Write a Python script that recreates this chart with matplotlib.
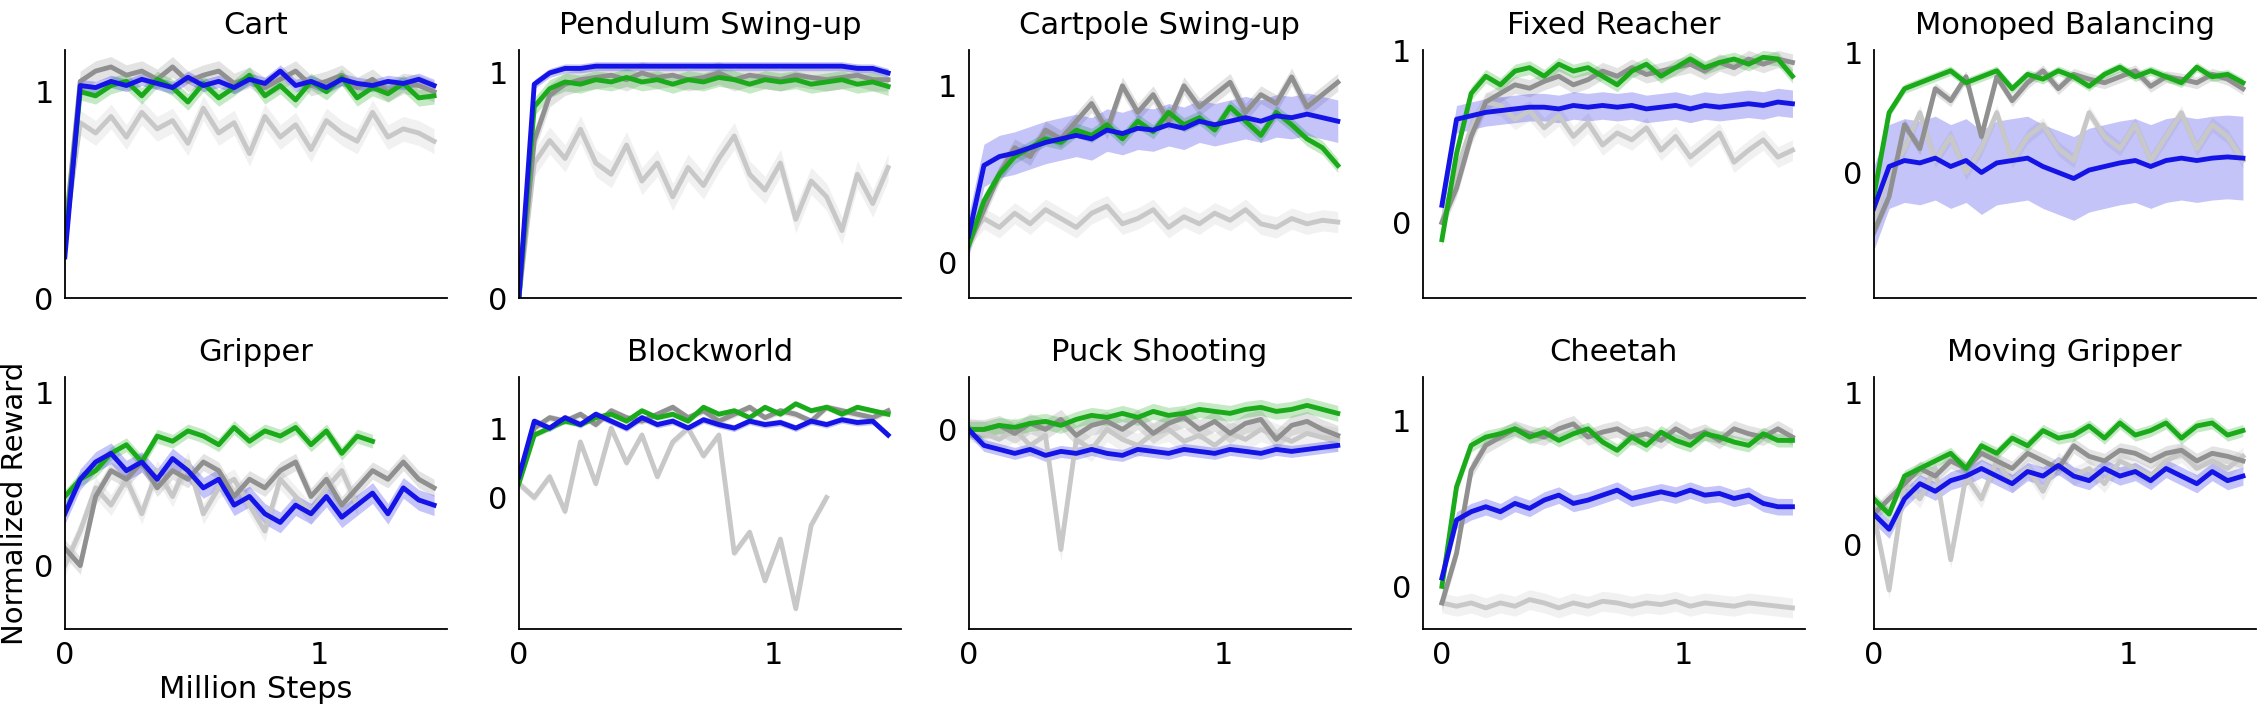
import numpy as np
import matplotlib
matplotlib.use("Agg")
import matplotlib.pyplot as plt

nan = np.nan
titles = ["Cart", "Pendulum Swing-up", "Cartpole Swing-up", "Fixed Reacher", "Monoped Balancing",
          "Gripper", "Blockworld", "Puck Shooting", "Cheetah", "Moving Gripper"]

blue = [
 [0.2,1.03,1.02,1.05,1.03,1.06,1.04,1.02,1.07,1.03,1.05,1.02,1.06,1.04,1.1,1.03,1.05,1.02,1.06,1.04,1.03,1.05,1.04,1.06,1.03],
 [0,0.95,1.0,1.02,1.02,1.03,1.03,1.03,1.03,1.03,1.03,1.03,1.03,1.03,1.03,1.03,1.03,1.03,1.03,1.03,1.03,1.03,1.02,1.02,1.0],
 [0.15,0.55,0.6,0.62,0.65,0.68,0.7,0.72,0.7,0.75,0.73,0.76,0.75,0.78,0.76,0.8,0.78,0.8,0.82,0.8,0.83,0.82,0.84,0.82,0.8],
 [0.1,0.6,0.62,0.64,0.65,0.66,0.67,0.67,0.66,0.68,0.67,0.68,0.67,0.68,0.66,0.67,0.68,0.66,0.68,0.67,0.68,0.69,0.68,0.7,0.69],
 [-0.3,0.05,0.1,0.08,0.12,0.05,0.1,0.0,0.08,0.1,0.12,0.05,0.0,-0.05,0.02,0.05,0.08,0.1,0.05,0.1,0.12,0.1,0.12,0.13,0.12],
 [0.3,0.5,0.6,0.65,0.55,0.6,0.5,0.62,0.55,0.45,0.5,0.35,0.4,0.3,0.25,0.35,0.3,0.4,0.28,0.35,0.42,0.3,0.45,0.38,0.35],
 [0.3,1.1,1.0,1.15,1.05,1.2,1.1,1.0,1.15,1.05,1.1,1.0,1.12,1.05,1.0,1.1,1.05,1.08,1.0,1.1,1.05,1.12,1.08,1.1,0.9],
 [0,-0.08,-0.1,-0.12,-0.1,-0.13,-0.11,-0.12,-0.1,-0.12,-0.13,-0.1,-0.11,-0.12,-0.1,-0.11,-0.12,-0.1,-0.11,-0.12,-0.1,-0.11,-0.1,-0.09,-0.08],
 [0.05,0.4,0.45,0.48,0.45,0.5,0.47,0.52,0.55,0.5,0.52,0.55,0.58,0.53,0.55,0.57,0.55,0.58,0.55,0.56,0.53,0.55,0.5,0.48,0.48],
 [0.2,0.1,0.3,0.4,0.35,0.42,0.45,0.5,0.45,0.4,0.48,0.45,0.52,0.45,0.42,0.5,0.45,0.48,0.42,0.5,0.45,0.4,0.48,0.42,0.45],
]
green = [
 [0.25,1.0,0.98,1.03,1.05,0.98,1.06,1.02,0.95,1.04,0.97,1.02,1.08,0.98,1.03,0.96,1.05,1.0,1.07,0.97,1.02,0.99,1.04,0.97,0.98],
 [0,0.85,0.93,0.96,0.95,0.97,0.96,0.98,0.96,0.97,0.95,0.97,0.96,0.98,0.97,0.95,0.97,0.96,0.97,0.95,0.96,0.97,0.95,0.96,0.94],
 [0.1,0.35,0.5,0.6,0.65,0.7,0.68,0.75,0.72,0.78,0.7,0.8,0.74,0.85,0.78,0.82,0.75,0.88,0.8,0.72,0.85,0.78,0.7,0.65,0.55],
 [-0.1,0.4,0.75,0.85,0.8,0.88,0.9,0.85,0.92,0.88,0.9,0.85,0.8,0.88,0.92,0.85,0.9,0.95,0.9,0.93,0.95,0.92,0.96,0.95,0.85],
 [-0.2,0.5,0.7,0.75,0.8,0.85,0.75,0.8,0.85,0.7,0.82,0.78,0.85,0.8,0.72,0.82,0.88,0.8,0.85,0.8,0.75,0.88,0.8,0.82,0.75],
 [0.4,0.5,0.55,0.65,0.7,0.6,0.75,0.72,0.78,0.75,0.7,0.8,0.72,0.78,0.75,0.8,0.7,0.78,0.65,0.75,0.72,nan,nan,nan,nan],
 [0.2,0.9,1.0,1.1,1.05,1.15,1.2,1.1,1.25,1.15,1.2,1.1,1.3,1.2,1.25,1.15,1.3,1.2,1.35,1.25,1.3,1.2,1.3,1.25,1.2],
 [0,0.0,0.02,0.01,0.03,0.04,0.02,0.05,0.07,0.06,0.08,0.06,0.09,0.07,0.08,0.1,0.09,0.08,0.1,0.11,0.09,0.1,0.12,0.1,0.08],
 [0,0.6,0.85,0.9,0.92,0.95,0.9,0.93,0.88,0.92,0.95,0.87,0.82,0.9,0.85,0.93,0.88,0.85,0.92,0.9,0.87,0.85,0.92,0.88,0.88],
 [0.3,0.2,0.45,0.5,0.55,0.6,0.5,0.65,0.6,0.7,0.65,0.75,0.7,0.72,0.78,0.7,0.8,0.72,0.75,0.8,0.7,0.78,0.8,0.72,0.75],
]
grey = [
 [0.3,1.05,1.1,1.12,1.08,1.1,1.06,1.12,1.05,1.08,1.1,1.04,1.07,1.02,1.06,1.1,1.03,1.05,1.08,1.02,1.06,1.0,1.04,1.03,1.0],
 [0,0.7,0.9,0.95,0.97,0.98,0.99,0.97,1.0,0.98,0.99,0.97,0.98,1.0,0.97,0.99,0.98,0.97,0.99,0.98,0.97,0.98,0.99,0.97,0.97],
 [0.1,0.3,0.5,0.65,0.6,0.75,0.7,0.8,0.9,0.75,1.0,0.85,0.95,0.8,1.0,0.88,0.95,1.02,0.85,0.95,0.9,1.05,0.88,0.95,1.02],
 [0,0.2,0.5,0.7,0.75,0.8,0.78,0.82,0.85,0.8,0.83,0.88,0.85,0.9,0.86,0.88,0.9,0.92,0.88,0.93,0.9,0.95,0.92,0.95,0.93],
 [-0.5,-0.2,0.4,0.2,0.7,0.6,0.8,0.3,0.8,0.6,0.75,0.85,0.7,0.82,0.78,0.75,0.8,0.85,0.72,0.8,0.78,0.75,0.82,0.78,0.7],
 [0.1,0.0,0.4,0.55,0.5,0.6,0.45,0.55,0.5,0.6,0.55,0.4,0.5,0.45,0.55,0.6,0.4,0.5,0.35,0.45,0.55,0.5,0.6,0.5,0.45],
 [0.3,1.0,1.15,1.1,1.2,1.05,1.25,1.15,1.1,1.2,1.3,1.15,1.25,1.1,1.2,1.3,1.15,1.25,1.2,1.1,1.3,1.25,1.2,1.15,1.25],
 [0,0.0,0.02,-0.02,0.03,0.0,0.05,-0.03,0.02,0.04,0.0,0.05,-0.02,0.03,0.06,0.0,0.04,-0.02,0.03,0.05,-0.05,0.02,0.04,0.0,-0.03],
 [-0.1,0.2,0.7,0.85,0.9,0.95,0.92,0.9,0.95,0.98,0.9,0.93,0.95,0.9,0.92,0.88,0.95,0.9,0.93,0.88,0.95,0.92,0.9,0.95,0.9],
 [0.2,0.3,0.4,0.5,0.45,0.55,0.5,0.6,0.55,0.5,0.6,0.55,0.5,0.65,0.58,0.55,0.62,0.6,0.55,0.6,0.62,0.55,0.6,0.58,0.55],
]
light = [
 [0.3,0.85,0.8,0.88,0.78,0.9,0.82,0.86,0.75,0.92,0.8,0.85,0.7,0.88,0.78,0.84,0.72,0.86,0.8,0.76,0.9,0.78,0.82,0.8,0.76],
 [0,0.6,0.7,0.62,0.75,0.6,0.55,0.68,0.52,0.6,0.45,0.58,0.5,0.62,0.72,0.55,0.48,0.6,0.35,0.52,0.45,0.3,0.55,0.42,0.58],
 [0.15,0.25,0.2,0.28,0.22,0.3,0.25,0.2,0.28,0.32,0.22,0.25,0.3,0.2,0.26,0.22,0.28,0.24,0.3,0.22,0.2,0.25,0.22,0.24,0.23],
 [0,0.3,0.55,0.7,0.68,0.6,0.65,0.55,0.62,0.5,0.58,0.45,0.52,0.48,0.55,0.42,0.5,0.38,0.45,0.52,0.35,0.42,0.48,0.38,0.42],
 [-0.4,0.0,0.2,0.5,0.1,0.3,0.0,0.2,0.5,0.1,0.3,0.4,0.2,0.1,0.5,0.3,0.2,0.4,0.1,0.3,0.5,0.2,0.4,0.3,0.1],
 [0.0,0.2,0.45,0.35,0.5,0.3,0.55,0.4,0.6,0.3,0.45,0.5,0.35,0.2,0.5,0.4,0.3,0.45,0.55,0.35,nan,nan,nan,nan,nan],
 [0.2,0.0,0.3,-0.2,0.8,0.2,1.0,0.5,0.9,0.3,0.8,1.0,0.6,0.9,-0.8,-0.5,-1.2,-0.6,-1.6,-0.4,0.0,nan,nan,nan,nan],
 [0,-0.02,-0.05,0.0,-0.08,-0.03,-0.6,-0.05,-0.1,0.0,-0.05,-0.08,-0.02,0.0,-0.06,-0.03,-0.08,-0.02,-0.05,0.0,-0.03,-0.06,-0.02,-0.04,-0.05],
 [-0.1,-0.12,-0.1,-0.13,-0.1,-0.12,-0.08,-0.1,-0.13,-0.1,-0.12,-0.09,-0.1,-0.12,-0.1,-0.11,-0.09,-0.12,-0.1,-0.11,-0.12,-0.1,-0.11,-0.12,-0.13],
 [0.2,-0.3,0.4,0.3,0.5,-0.1,0.45,0.3,0.55,0.4,0.5,0.35,0.55,0.45,0.5,0.4,0.55,0.5,0.45,0.55,0.6,0.5,0.55,0.5,0.58],
]
ylims = [(0,1.2),(0,1.1),(-0.2,1.2),(-0.44,1.0),(-1.05,1.02),
         (-0.37,1.09),(-1.9,1.73),(-1.0,0.26),(-0.26,1.26),(-0.56,1.1)]
yticks = [[0,1],[0,1],[0,1],[0,1],[0,1],[0,1],[0,1],[0],[0,1],[0,1]]
xmins = [0,0,0,-0.08,0,0,0,0,-0.08,0]
bluebands = [0.03,0.02,0.12,0.08,0.35,0.06,0.05,0.03,0.05,0.06]

x = np.linspace(0, 1.45, 25)
fig = plt.figure(figsize=(22.6, 7.13), dpi=100)
lefts = [45, 360, 672, 987, 1300]
W, H = 1568, 495
series = [(light, '#c8c8c8', 0.06), (grey, '#909090', 0.05), (green, '#1aaa1a', 0.04), (blue, '#1414e6', None)]
for i in range(10):
    r, c = divmod(i, 5)
    top, bot = (35, 207) if r == 0 else (262, 437)
    ax = fig.add_axes([lefts[c]/W, 1-bot/H, 265/W, (bot-top)/H])
    for data, col, bw in series:
        y = np.array(data[i], dtype=float)
        w = bluebands[i] if bw is None else bw
        ax.fill_between(x, y-w, y+w, color=col, alpha=0.25, lw=0)
        ax.plot(x, y, color=col, lw=3.5)
    ax.set_xlim(xmins[i], 1.5)
    ax.set_ylim(*ylims[i])
    ax.set_yticks(yticks[i])
    ax.set_xticks([0, 1])
    if r == 0:
        ax.set_xticklabels([])
    for s in ['top', 'right']:
        ax.spines[s].set_visible(False)
    ax.spines['left'].set_linewidth(1.3)
    ax.spines['bottom'].set_linewidth(1.3)
    ax.tick_params(length=0, labelsize=22, pad=8)
    ax.set_title(titles[i], fontsize=22, pad=12)
    if i == 5:
        ax.set_ylabel("Normalized Reward", fontsize=21, labelpad=4)
        ax.set_xlabel("Million Steps", fontsize=22, labelpad=4)
fig.savefig("out.png", dpi=100)
